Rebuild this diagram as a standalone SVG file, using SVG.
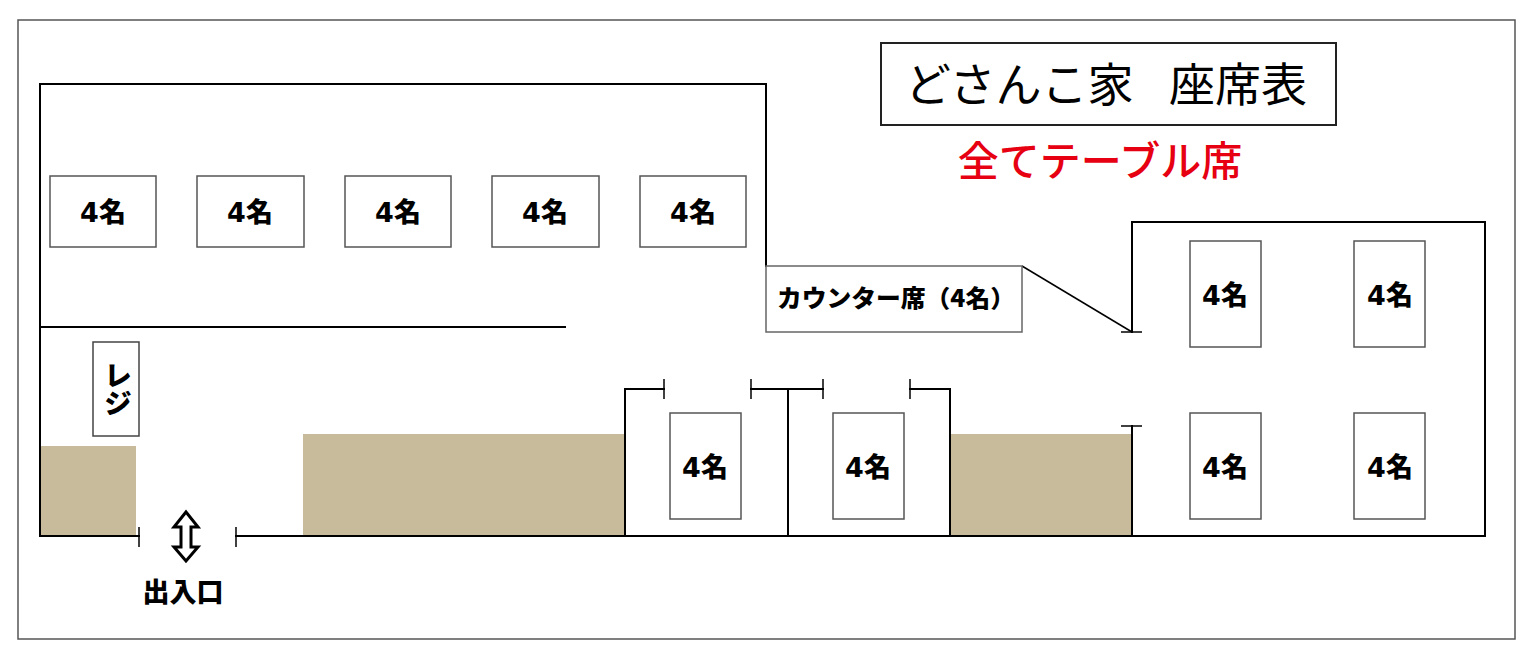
<svg xmlns="http://www.w3.org/2000/svg" width="1531" height="656" viewBox="0 0 1531 656">
<style>
.wall{fill:none;stroke:#000;stroke-width:2;stroke-linecap:square}
.tick{fill:none;stroke:#000;stroke-width:1.5}
.tbl{fill:#fff;stroke:#555;stroke-width:1.5}
.tan{fill:#C8BB9B}
.lbl{font-family:"DejaVu Sans","Noto Sans CJK JP",sans-serif;font-weight:900;font-size:27px;text-anchor:middle;fill:#000}
.jp{font-family:"Noto Sans CJK JP",sans-serif;font-weight:900;text-anchor:middle;fill:#000}
</style>
<rect x="0" y="0" width="1531" height="656" fill="#fff"/>
<rect x="18" y="20" width="1497" height="619" fill="#fff" stroke="#555" stroke-width="1.5"/>

<g id="floor">
  <rect class="tan" x="40" y="446" width="96" height="90"/>
  <rect class="tan" x="303" y="434" width="322" height="102"/>
  <rect class="tan" x="950" y="434" width="182" height="102"/>
</g>

<g id="walls">
  <polyline class="wall" points="139,536 40,536 40,84 766,84 766,266"/>
  <line class="wall" x1="42" y1="327" x2="565" y2="327"/>
  <line class="wall" x1="236" y1="536" x2="1485" y2="536"/>
  <polyline class="wall" points="1132,332 1132,222 1485,222 1485,536"/>
  <line class="wall" x1="1132" y1="426" x2="1132" y2="536"/>
  <line class="tick" x1="1121" y1="332" x2="1142" y2="332"/>
  <line class="tick" x1="1121" y1="426" x2="1142" y2="426"/>
  <line class="tick" x1="1022" y1="266" x2="1132" y2="332"/>
  <line class="tick" x1="139" y1="527" x2="139" y2="547"/>
  <line class="tick" x1="236" y1="527" x2="236" y2="547"/>
  <polyline class="wall" points="625,536 625,389 664,389"/>
  <line class="tick" x1="664" y1="379" x2="664" y2="399"/>
  <line class="wall" x1="751" y1="389" x2="823" y2="389"/>
  <line class="tick" x1="751" y1="379" x2="751" y2="399"/>
  <line class="tick" x1="823" y1="379" x2="823" y2="399"/>
  <line class="wall" x1="788" y1="389" x2="788" y2="536"/>
  <polyline class="wall" points="910,389 950,389 950,536"/>
  <line class="tick" x1="910" y1="379" x2="910" y2="399"/>
</g>

<g id="title">
  <rect x="881" y="43" width="455" height="82" fill="#fff" stroke="#222" stroke-width="2"/>
  <text x="905" y="101" font-family="Noto Sans CJK JP,sans-serif" font-size="46" fill="#000">どさんこ家 <tspan dx="25">座席表</tspan></text>
</g>
<g id="subtitle">
  <text x="1100" y="176" font-family="Noto Sans CJK JP,sans-serif" font-weight="500" font-size="41" text-anchor="middle" fill="#E60012">全てテーブル席</text>
</g>

<g id="table-t1"><rect class="tbl" x="50" y="176" width="106" height="71"/><text class="lbl" x="103" y="222">4名</text></g>
<g id="table-t2"><rect class="tbl" x="197" y="176" width="107" height="71"/><text class="lbl" x="250" y="222">4名</text></g>
<g id="table-t3"><rect class="tbl" x="345" y="176" width="106" height="71"/><text class="lbl" x="398" y="222">4名</text></g>
<g id="table-t4"><rect class="tbl" x="492" y="176" width="107" height="71"/><text class="lbl" x="545" y="222">4名</text></g>
<g id="table-t5"><rect class="tbl" x="640" y="176" width="106" height="71"/><text class="lbl" x="693" y="222">4名</text></g>

<g id="counter">
  <rect x="766" y="266" width="256" height="66" fill="#fff" stroke="#666" stroke-width="1.5"/>
  <text class="jp" x="896" y="307" font-size="24" textLength="238" lengthAdjust="spacingAndGlyphs">カウンター席（4名）</text>
</g>

<g id="register">
  <rect x="93" y="342" width="46" height="94" fill="#fff" stroke="#444" stroke-width="1.5"/>
  <text class="jp" x="118" y="389" font-size="28" writing-mode="vertical-rl">レジ</text>
</g>

<g id="table-b1"><rect class="tbl" x="670" y="413" width="71" height="106"/><text class="lbl" x="705" y="477">4名</text></g>
<g id="table-b2"><rect class="tbl" x="833" y="413" width="71" height="106"/><text class="lbl" x="868" y="477">4名</text></g>

<g id="table-r1"><rect class="tbl" x="1190" y="241" width="71" height="106"/><text class="lbl" x="1225" y="305">4名</text></g>
<g id="table-r2"><rect class="tbl" x="1354" y="241" width="71" height="106"/><text class="lbl" x="1390" y="305">4名</text></g>
<g id="table-r3"><rect class="tbl" x="1190" y="413" width="71" height="106"/><text class="lbl" x="1225" y="477">4名</text></g>
<g id="table-r4"><rect class="tbl" x="1354" y="413" width="71" height="106"/><text class="lbl" x="1390" y="477">4名</text></g>

<g id="entrance">
  <path d="M186,512 L198,527 L191,527 L191,547 L198,547 L186,561 L174,547 L181,547 L181,527 L174,527 Z" fill="#fff" stroke="#000" stroke-width="3" stroke-linejoin="miter"/>
  <text class="jp" x="183" y="602" font-size="27">出入口</text>
</g>
</svg>
